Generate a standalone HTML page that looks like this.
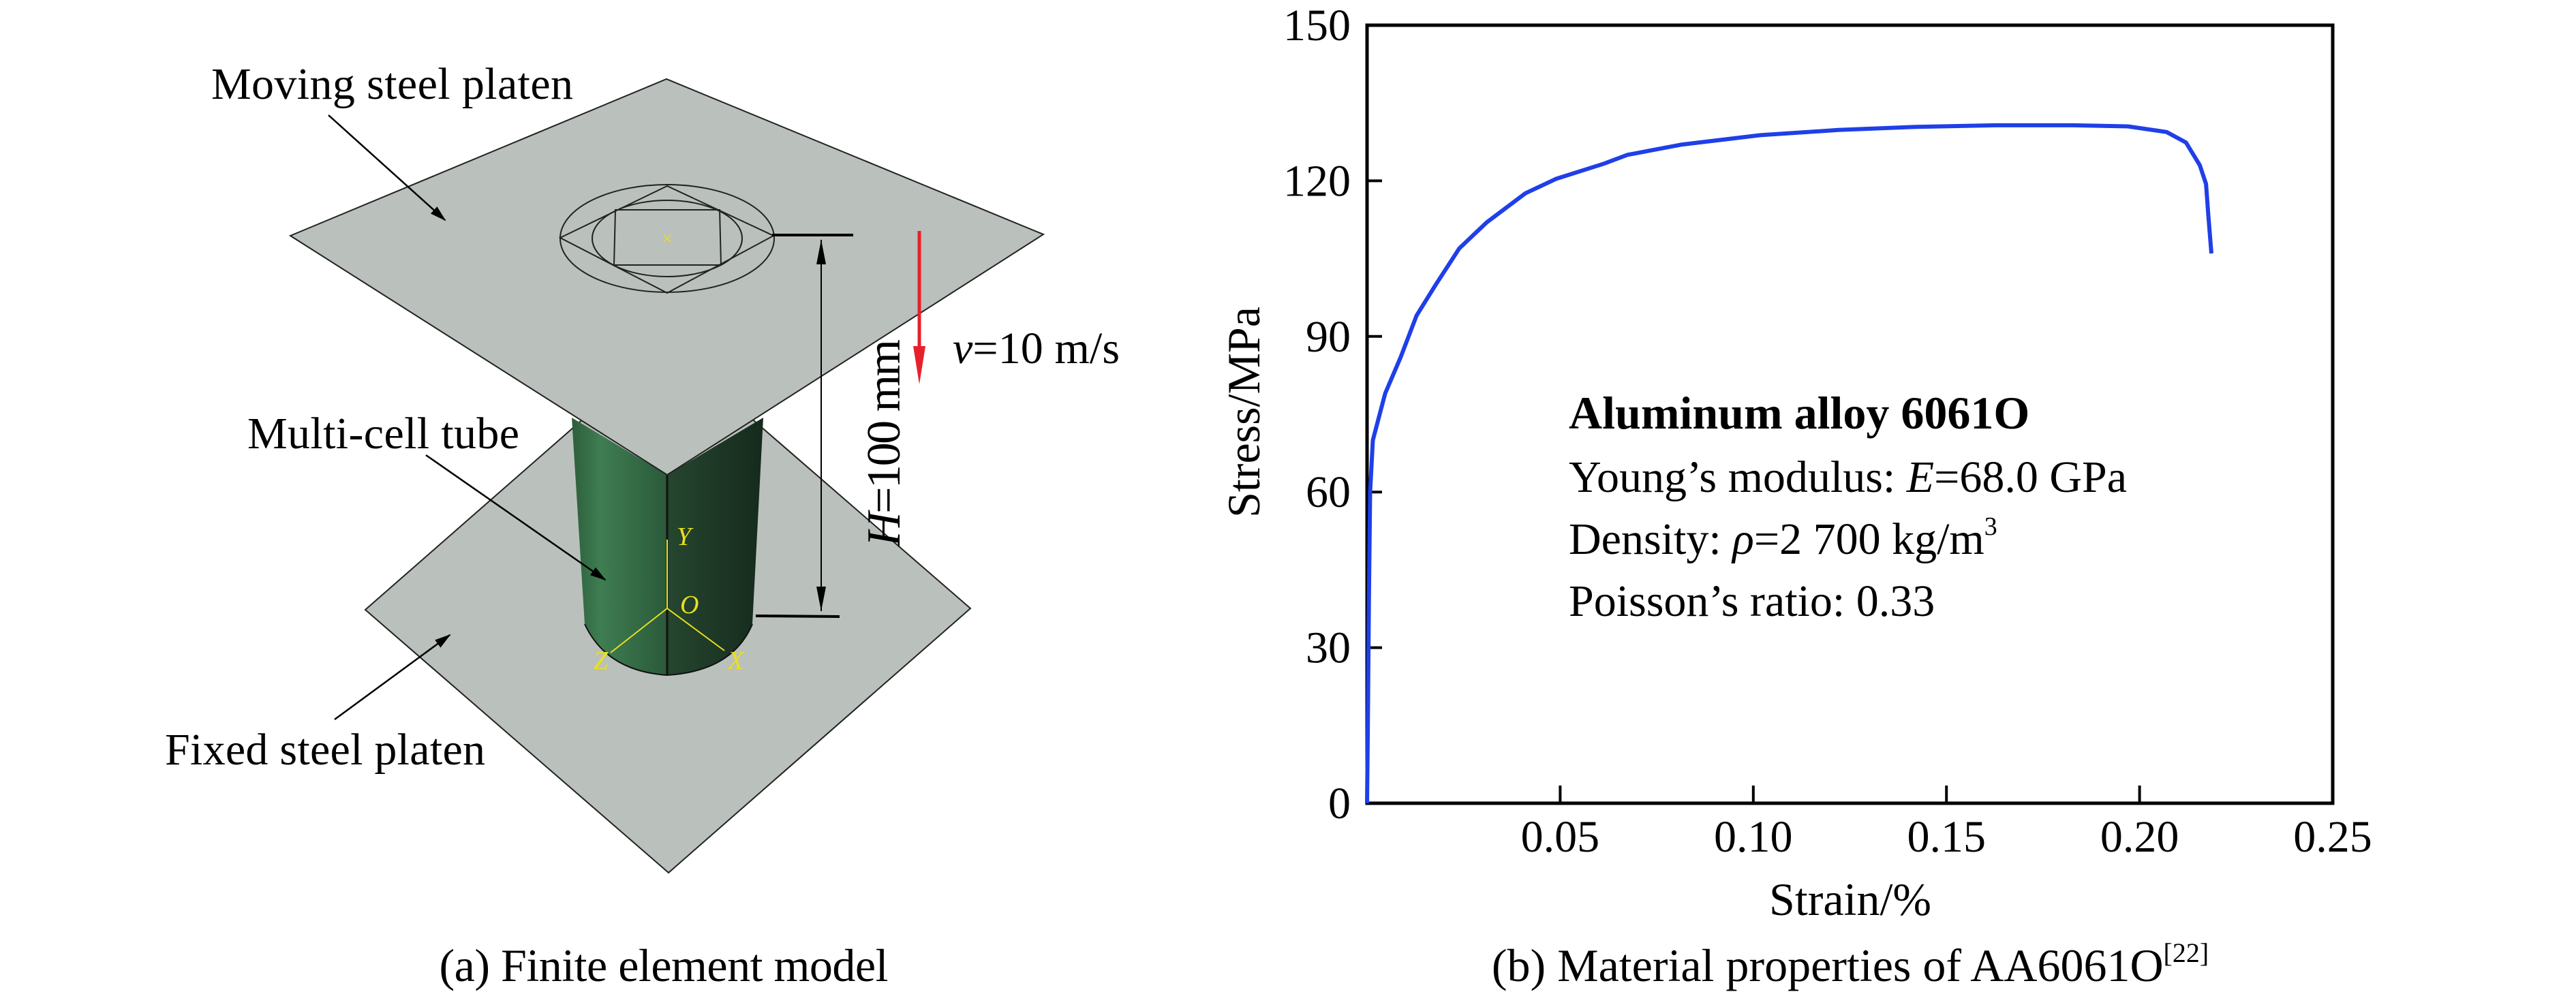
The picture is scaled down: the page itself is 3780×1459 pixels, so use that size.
<!DOCTYPE html>
<html><head><meta charset="utf-8"><style>
html,body{margin:0;padding:0;background:#fff}
svg{display:block;font-family:"Liberation Serif",serif}
</style></head><body>
<svg id="fig" width="3780" height="1459" viewBox="0 0 3780 1459" xmlns="http://www.w3.org/2000/svg">
<defs>
<linearGradient id="tubeL" x1="0" x2="1"><stop offset="0" stop-color="#2c5e3b"/><stop offset="0.3" stop-color="#3f7d52"/><stop offset="1" stop-color="#2a5a3a"/></linearGradient>
<linearGradient id="tubeR" x1="0" x2="1"><stop offset="0" stop-color="#26462f"/><stop offset="1" stop-color="#152a1d"/></linearGradient>
<marker id="ah" markerWidth="24" markerHeight="24" refX="22" refY="12" orient="auto" markerUnits="userSpaceOnUse" viewBox="0 0 24 24"><path d="M0,5 L24,12 L0,19 z" fill="#000"/></marker>
</defs>
<g>
 <polygon points="536,895 979,507 1424,893 981,1281" fill="#bac0bb" stroke="#222" stroke-width="2"/>
 <path d="M839,613 L858,916 Q890,985 979,991 L979,697 Z" fill="url(#tubeL)"/>
 <path d="M979,697 L979,991 Q1075,985 1104,916 L1120,613 Z" fill="url(#tubeR)"/>
 <path d="M858,916 Q890,985 979,991 Q1075,985 1104,916" fill="none" stroke="#111" stroke-width="2"/>
 <line x1="979" y1="697" x2="979" y2="991" stroke="#111" stroke-width="3"/>
 <g stroke="#e8e020" stroke-width="2" fill="none">
  <line x1="979" y1="792" x2="979" y2="893"/><line x1="979" y1="893" x2="896" y2="958"/><line x1="979" y1="893" x2="1063" y2="955"/>
 </g>
 <g fill="#e8e020" font-style="italic" font-size="38">
  <text x="993" y="800">Y</text><text x="998" y="900">O</text><text x="871" y="982">Z</text><text x="1068" y="982">X</text>
 </g>
 <polygon points="426,346 978,116 1531,344 979,697" fill="#bac0bb" stroke="#222" stroke-width="2"/>
 <g fill="none" stroke="#222" stroke-width="2">
  <ellipse cx="979" cy="350" rx="157" ry="79"/>
  <ellipse cx="979" cy="350" rx="110" ry="56"/>
  <polygon points="822,349 979,273 1135,346 979,430"/>
  <polygon points="903,308 1056,308 1058,389 901,389"/>
 </g>
 <text x="979" y="360" fill="#e8e020" font-size="30" text-anchor="middle">×</text>
 <g stroke="#000" stroke-width="3">
  <line x1="1133" y1="345" x2="1252" y2="345" stroke-width="4"/>
  <line x1="1109" y1="904" x2="1232" y2="905" stroke-width="4"/>
  <line x1="1205" y1="352" x2="1205" y2="897" stroke-width="2"/>
  <polygon points="1205,352 1198,388 1212,388" fill="#000" stroke="none"/>
  <polygon points="1205,897 1198,861 1212,861" fill="#000" stroke="none"/>
 </g>
 <text transform="translate(1320,650) rotate(-90)" text-anchor="middle" font-size="70" textLength="304"><tspan font-style="italic">H</tspan>=100 mm</text>
 <g>
  <line x1="1349" y1="339" x2="1349" y2="515" stroke="#e8202a" stroke-width="5"/>
  <polygon points="1349,564 1340,508 1358,508" fill="#e8202a"/>
 </g>
 <text x="1398" y="533" font-size="66" textLength="245"><tspan font-style="italic">v</tspan>=10 m/s</text>
 <text x="310" y="145" font-size="66" textLength="531">Moving steel platen</text>
 <line x1="482" y1="169" x2="653" y2="323" stroke="#000" stroke-width="2.5" marker-end="url(#ah)"/>
 <text x="363" y="658" font-size="66" textLength="399">Multi-cell tube</text>
 <line x1="625" y1="668" x2="888" y2="851" stroke="#000" stroke-width="2.5" marker-end="url(#ah)"/>
 <text x="242" y="1122" font-size="66" textLength="470">Fixed steel platen</text>
 <line x1="491" y1="1056" x2="660" y2="932" stroke="#000" stroke-width="2.5" marker-end="url(#ah)"/>
 <text x="974" y="1440" font-size="68" text-anchor="middle" textLength="659">(a) Finite element model</text>
</g>
<g id="chart"></g>
</svg>
<script>
const strain=[0,0.0002,0.0005,0.0008,0.0015,0.0047,0.0087,0.0128,0.0178,0.0239,0.031,0.041,0.049,0.0613,0.0674,0.0816,0.1018,0.122,0.142,0.1625,0.183,0.197,0.207,0.212,0.2156,0.2172,0.2178,0.2186];
const stress=[0,14,40,60,70,79,86,94,100,107,112,117.6,120.4,123.3,125,127,128.8,129.8,130.4,130.7,130.7,130.5,129.4,127.4,123,119.4,113.3,106];
const xTicks=[0.05,0.10,0.15,0.20,0.25];
const xTickLabels=["0.05","0.10","0.15","0.20","0.25"];
const yTicks=[0,30,60,90,120,150];
const yTickLabels=["0","30","60","90","120","150"];
const X0=2006,X1=3423,Y0=1179,Y1=37;
function sx(v){return X0+(v-0)/(0.25-0)*(X1-X0);}
function sy(v){return Y0-(v-0)/(150-0)*(Y0-Y1);}
const NS="http://www.w3.org/2000/svg";
const g=document.getElementById('chart');
function mk(t,a,txt){const e=document.createElementNS(NS,t);for(const k in a)e.setAttribute(k,a[k]);if(txt!==undefined)e.textContent=txt;g.appendChild(e);return e;}
let el;
el=mk('rect',{x:X0,y:Y1,width:X1-X0,height:Y0-Y1,fill:'none',stroke:'#000','stroke-width':5});


xTicks.forEach((v,i)=>{
 if(i<xTicks.length-1){el=mk('line',{x1:sx(v),x2:sx(v),y1:Y0,y2:Y0-26,stroke:'#000','stroke-width':4});
 
 }
 el=mk('text',{x:sx(v),y:1250,'font-size':66,'text-anchor':'middle'},xTickLabels[i]);
 
 
});
yTicks.forEach((v,i)=>{
 if(i>0&&i<yTicks.length-1){el=mk('line',{x1:X0,x2:X0+22,y1:sy(v),y2:sy(v),stroke:'#000','stroke-width':4});
 
 }
 el=mk('text',{x:1982,y:sy(v)+22,'font-size':66,'text-anchor':'end'},yTickLabels[i]);
 
 
});
el=mk('path',{d:strain.map((s,i)=>(i?'L':'M')+sx(s).toFixed(1)+','+sy(stress[i]).toFixed(1)).join(' '),fill:'none',stroke:'#1f3fe8','stroke-width':6,'stroke-linejoin':'round'});


el=mk('text',{x:2715,y:1343,'font-size':68,'text-anchor':'middle'},'Strain/%');


el=mk('text',{transform:'translate(1848,605) rotate(-90)','font-size':68,'text-anchor':'middle'},'Stress/MPa');


el=mk('text',{x:2302,y:629,'font-size':68,'font-weight':'bold'},'Aluminum alloy 6061O');


el=mk('text',{x:2302,y:722,'font-size':66});
el.innerHTML='Young’s modulus: <tspan font-style="italic">E</tspan>=68.0 GPa';


el=mk('text',{x:2302,y:813,'font-size':66});
el.innerHTML='Density: <tspan font-style="italic">ρ</tspan>=2 700 kg/m<tspan font-size="38" dy="-28">3</tspan>';


el=mk('text',{x:2302,y:904,'font-size':66},'Poisson’s ratio: 0.33');


el=mk('text',{x:2715,y:1440,'font-size':68,'text-anchor':'middle'});
el.innerHTML='(b) Material properties of AA6061O<tspan font-size="40" dy="-28">[22]</tspan>';


</script>
</body></html>
